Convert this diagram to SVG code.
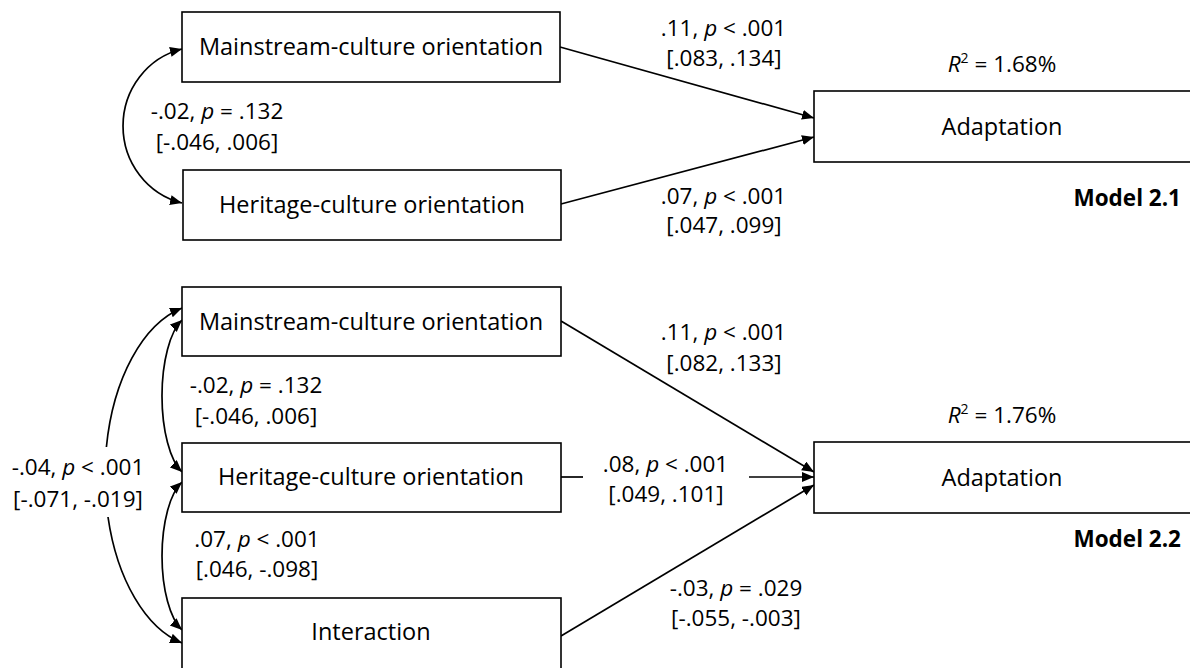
<svg xmlns="http://www.w3.org/2000/svg" width="1190" height="668" viewBox="0 0 1190 668">
<style>
.box{fill:#fff;stroke:#000;stroke-width:1.6}
.bt{font-family:"Open Sans","Liberation Sans",sans-serif;font-size:23.5px;fill:#000;text-anchor:middle}
.lb{font-family:"Open Sans","Liberation Sans",sans-serif;font-size:22.5px;fill:#000;text-anchor:middle}
.md{font-family:"Open Sans","Liberation Sans",sans-serif;font-size:22.5px;font-weight:bold;fill:#000;text-anchor:end}
.c{fill:none;stroke:#000;stroke-width:1.7}
.i{font-style:italic}
</style>
<defs>
<marker id="ah" markerUnits="userSpaceOnUse" markerWidth="13" markerHeight="11" refX="12" refY="5" orient="auto-start-reverse">
<path d="M0,0 L12,5 L0,10 z" fill="#000"/>
</marker>
</defs>
<rect width="1190" height="668" fill="#fff"/>
<g id="connectors">
<path class="c" d="M560,47 L814,118" marker-end="url(#ah)"/>
<path class="c" d="M561,204 L814,137" marker-end="url(#ah)"/>
<path class="c" d="M182,49 A77 79.2 0 0 0 182,203" marker-start="url(#ah)" marker-end="url(#ah)"/>
<path class="c" d="M561,321 L814,472" marker-end="url(#ah)"/>
<path class="c" d="M561,477 L583,477"/>
<path class="c" d="M749,477 L814,477" marker-end="url(#ah)"/>
<path class="c" d="M561,636 L814,485" marker-end="url(#ah)"/>
<path class="c" d="M182,308 A100 172 0 0 0 106.4,447" marker-start="url(#ah)"/>
<path class="c" d="M108,517 A100 172 0 0 0 182,643" marker-end="url(#ah)"/>
<path class="c" d="M182,320 A30 80.6 0 0 0 182,472" marker-start="url(#ah)" marker-end="url(#ah)"/>
<path class="c" d="M182,482 A30 78.5 0 0 0 182,630" marker-start="url(#ah)" marker-end="url(#ah)"/>
</g>
<g id="m1-mainstream"><rect class="box" x="182" y="12" width="378" height="70"/><text class="bt" x="371" y="55">Mainstream-culture orientation</text></g>
<g id="m1-heritage"><rect class="box" x="183" y="170" width="378" height="70"/><text class="bt" x="372" y="213">Heritage-culture orientation</text></g>
<g id="m1-adaptation"><rect class="box" x="814" y="91" width="390" height="71"/><text class="bt" x="1002" y="135">Adaptation</text></g>
<g id="m2-mainstream"><rect class="box" x="182" y="287" width="379" height="69"/><text class="bt" x="371" y="330">Mainstream-culture orientation</text></g>
<g id="m2-heritage"><rect class="box" x="182" y="443" width="379" height="69"/><text class="bt" x="371" y="485">Heritage-culture orientation</text></g>
<g id="m2-interaction"><rect class="box" x="182" y="598" width="379" height="80"/><text class="bt" x="371" y="640">Interaction</text></g>
<g id="m2-adaptation"><rect class="box" x="814" y="442" width="390" height="71"/><text class="bt" x="1002" y="486">Adaptation</text></g>
<g id="labels">
<text class="lb" x="723.5" y="36">.11, <tspan class="i">p</tspan> &lt; .001</text>
<text class="lb" x="724" y="66">[.083, .134]</text>
<text class="lb" x="723.5" y="204">.07, <tspan class="i">p</tspan> &lt; .001</text>
<text class="lb" x="724" y="233">[.047, .099]</text>
<text class="lb" x="217" y="119">-.02, <tspan class="i">p</tspan> = .132</text>
<text class="lb" x="217" y="150">[-.046, .006]</text>
<text class="lb" x="1002" y="72"><tspan class="i">R</tspan><tspan font-size="14" dy="-9">2</tspan><tspan dy="9"> = 1.68%</tspan></text>
<text class="md" x="1181" y="206">Model 2.1</text>
<text class="lb" x="723.5" y="340">.11, <tspan class="i">p</tspan> &lt; .001</text>
<text class="lb" x="724" y="371">[.082, .133]</text>
<text class="lb" x="665.5" y="472">.08, <tspan class="i">p</tspan> &lt; .001</text>
<text class="lb" x="666" y="502">[.049, .101]</text>
<text class="lb" x="736" y="596">-.03, <tspan class="i">p</tspan> = .029</text>
<text class="lb" x="736" y="626">[-.055, -.003]</text>
<text class="lb" x="1002" y="423"><tspan class="i">R</tspan><tspan font-size="14" dy="-9">2</tspan><tspan dy="9"> = 1.76%</tspan></text>
<text class="md" x="1181" y="547">Model 2.2</text>
<text class="lb" x="256" y="393">-.02, <tspan class="i">p</tspan> = .132</text>
<text class="lb" x="256" y="424">[-.046, .006]</text>
<text class="lb" x="78" y="475">-.04, <tspan class="i">p</tspan> &lt; .001</text>
<text class="lb" x="78" y="507">[-.071, -.019]</text>
<text class="lb" x="257" y="547">.07, <tspan class="i">p</tspan> &lt; .001</text>
<text class="lb" x="257" y="577">[.046, -.098]</text>
</g>
</svg>
